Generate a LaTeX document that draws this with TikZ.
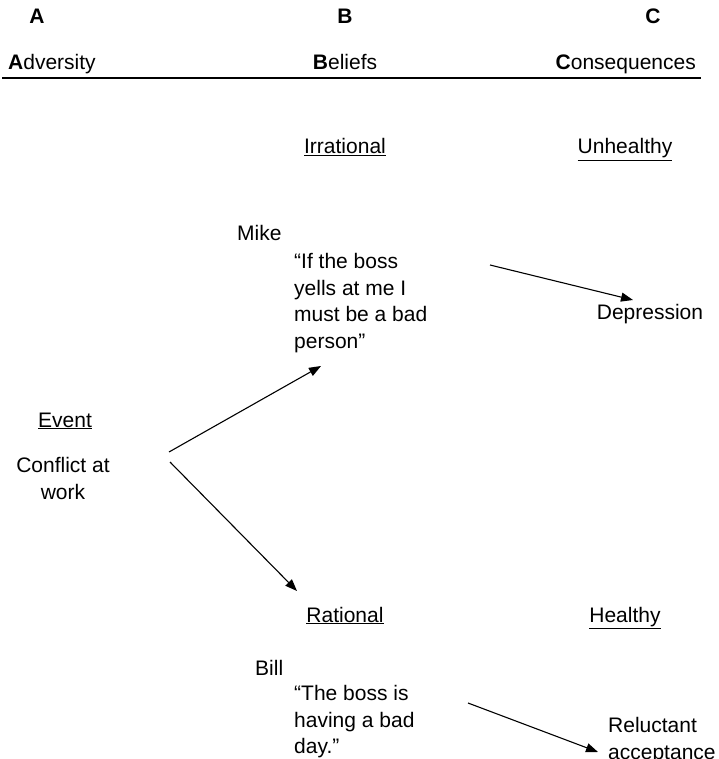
\documentclass[tikz,border=0pt]{standalone}
\usepackage{fontspec}
\setmainfont{Liberation Sans}
\usetikzlibrary{arrows.meta}
\begin{document}
\begin{tikzpicture}[x=1pt,y=-1pt,
  lbl/.style={inner sep=0pt, font=\fontsize{21}{26.7}\selectfont},
  head/.style={lbl, anchor=base},
  para/.style={lbl, align=left, anchor=north west},
  link/.style={line width=1.1pt, -{Triangle[length=12pt,width=9pt]}}]
\useasboundingbox (0,0) rectangle (718,759);

% column letters and titles
\node[head] (la) at (37,24) {\bfseries A};
\node[head] (lb) at (345,24) {\bfseries B};
\node[head] (lc) at (653,24) {\bfseries C};
\node[lbl, anchor=base west] (adv) at (8,70) {\textbf{A}dversity};
\node[head] (bel) at (345,70) {\textbf{B}eliefs};
\node[lbl, anchor=base east] (con) at (696,70) {\textbf{C}onsequences};
\coordinate (rulel) at (2,78);
\coordinate (ruler) at (701,78);
\draw[line width=1.1pt] (rulel) -- (ruler);

% irrational branch
\node[head] (irr) at (345,154) {\underline{Irrational}};
\node[head] (unh) at (625,154) {\underline{Unhealthy}};
\node[lbl, anchor=base west] (mike) at (237,240) {Mike};
\node[para] (mikeq) at (294,253) {“If the boss\\yells at me I\\must be a bad\\person”};
\node[head] (dep) at (650,319) {Depression};

% activating event
\node[head] (ev) at (65,427) {\underline{Event}};
\node[lbl, align=center, anchor=north] (conf) at (63,457.5) {Conflict at\\work};

% rational branch
\node[head] (rat) at (345,622) {\underline{Rational}};
\node[head] (hea) at (625,622) {\underline{Healthy}};
\node[lbl, anchor=base west] (bill) at (255,675) {Bill};
\node[para] (billq) at (294,685) {“The boss is\\having a bad\\day.”};
\node[para] (rel) at (608,717.5) {Reluctant\\acceptance};

% connectors
\coordinate (upfrom) at (169,452);
\coordinate (upto) at (321,366);
\coordinate (dnfrom) at (170,462);
\coordinate (dnto) at (297,591);
\coordinate (mfrom) at (490,265);
\coordinate (mto) at (633,300);
\coordinate (bfrom) at (468,703);
\coordinate (bto) at (598,752);
\draw[link] (upfrom) -- (upto);
\draw[link] (dnfrom) -- (dnto);
\draw[link] (mfrom) -- (mto);
\draw[link] (bfrom) -- (bto);
\end{tikzpicture}
\end{document}
